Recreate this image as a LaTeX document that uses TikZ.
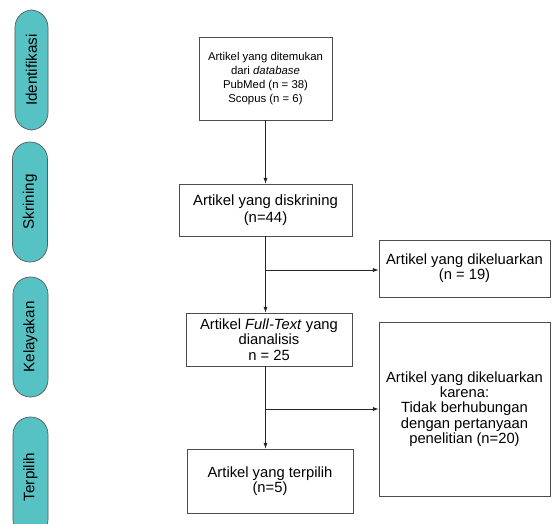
\documentclass[tikz,border=0pt]{standalone}
\usepackage{fontspec}
\setmainfont{Liberation Sans}
\usetikzlibrary{arrows.meta}
\definecolor{phasefill}{RGB}{86,194,196}
\begin{document}
\begin{tikzpicture}[x=0.03cm,y=-0.03cm,
  box/.style={draw=black!70,line width=0.6pt,align=center,inner sep=1pt,
    font=\fontsize{12.6}{13}\selectfont},
  phase/.style={draw=black!65,fill=phasefill,line width=0.6pt,rounded corners=0.52cm,
    rotate=90,minimum width=3.6cm,minimum height=1.05cm,inner sep=0pt,
    font=\fontsize{13}{15}\selectfont},
  flow/.style={draw=black!85,line width=0.6pt,-{Latex[length=5pt,width=3.6pt]}}]
  \useasboundingbox (0,0) rectangle (555,523);
  \clip (0,0) rectangle (555,523);
  \node[phase,minimum height=0.99cm] (ident) at (31.5,70) {Identifikasi};
  \node[phase] (skrin) at (30,202) {Skrining};
  \node[phase] (layak) at (30.5,337) {Kelayakan};
  \node[phase] (pilih) at (30.5,477) {Terpilih};
  \node[box,minimum width=3.99cm,minimum height=2.49cm,
    font=\fontsize{9.7}{12.2}\selectfont] (found) at (265.5,78.5)
    {Artikel yang ditemukan\\dari \textit{database}\\PubMed (n = 38)\\Scopus (n = 6)};
  \node[box,minimum width=5.19cm,minimum height=1.56cm,
    font=\fontsize{12.7}{14.3}\selectfont] (screen) at (265.5,210)
    {Artikel yang diskrining\\(n=44)};
  \node[box,minimum width=5.13cm,minimum height=1.71cm] (out1) at (464.5,268.5)
    {Artikel yang dikeluarkan\\(n = 19)};
  \node[box,minimum width=4.98cm,minimum height=1.59cm] (full) at (269,339.5)
    {Artikel \textit{Full-Text} yang\\dianalisis\\n = 25};
  \node[box,minimum width=5.13cm,minimum height=5.22cm] (out2) at (464.5,409)
    {Artikel yang dikeluarkan\\karena:\\Tidak berhubungan\\dengan pertanyaan\\penelitian (n=20)};
  \node[box,minimum width=4.98cm,minimum height=1.92cm] (incl) at (270,481)
    {Artikel yang terpilih\\(n=5)};
  \coordinate (b1) at (265.5,270);
  \coordinate (b2) at (265.5,409);
  \draw[flow] (found) -- (screen);
  \draw[flow] (screen.south) -- (screen.south |- full.north);
  \draw[flow] (b1) -- (b1 -| out1.west);
  \draw[flow] (b2 |- full.south) -- (b2 |- incl.north);
  \draw[flow] (b2) -- (out2.west);
\end{tikzpicture}
\end{document}
